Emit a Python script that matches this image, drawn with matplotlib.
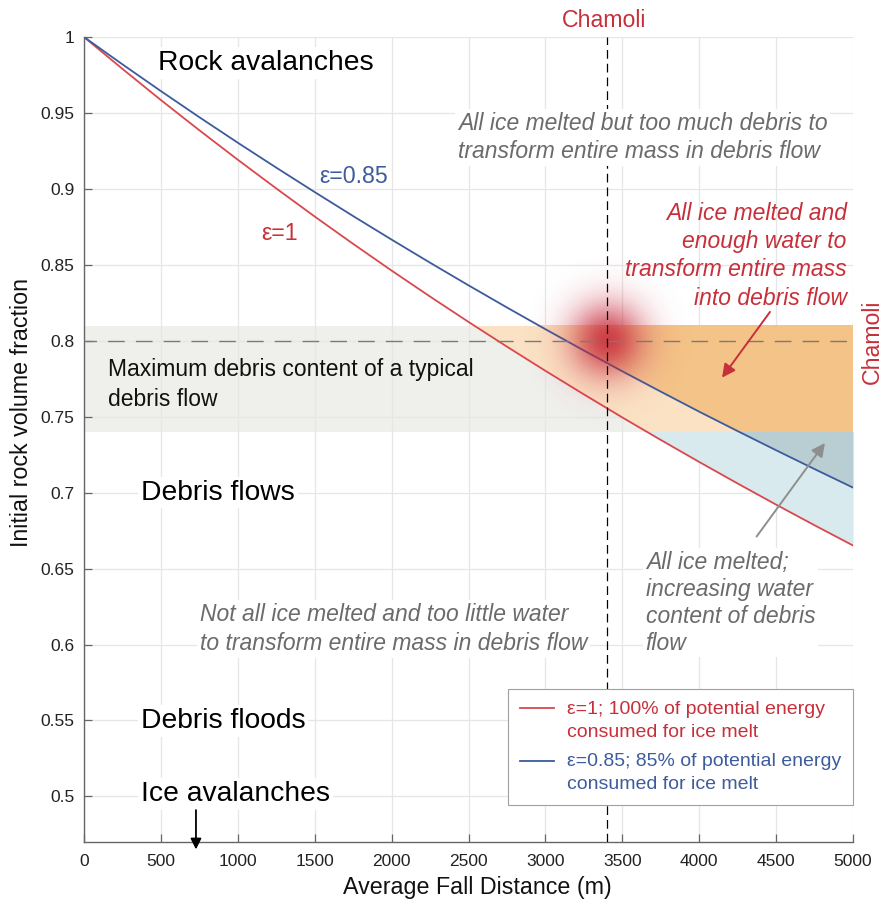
import numpy as np
import matplotlib
matplotlib.use("Agg")
import matplotlib.pyplot as plt
from matplotlib.patches import Rectangle, Polygon
from matplotlib.lines import Line2D
from matplotlib.legend_handler import HandlerLine2D

plt.rcParams['font.family'] = ['Liberation Sans', 'DejaVu Sans']

# ---- data -----------------------------------------------------------------
fall_distance = [0, 250, 500, 750, 1000, 1250, 1500, 1750, 2000, 2250, 2500,
                 2750, 3000, 3250, 3500, 3750, 4000, 4250, 4500, 4750, 5000]
rock_eps_1 = [1.0000, 0.9790, 0.9585, 0.9386, 0.9192, 0.9003, 0.8818, 0.8638,
              0.8462, 0.8291, 0.8124, 0.7961, 0.7802, 0.7647, 0.7495, 0.7347,
              0.7202, 0.7060, 0.6921, 0.6785, 0.6652]
rock_eps_085 = [1.0000, 0.9820, 0.9644, 0.9472, 0.9304, 0.9140, 0.8979, 0.8821,
                0.8666, 0.8514, 0.8365, 0.8219, 0.8076, 0.7936, 0.7799, 0.7665,
                0.7533, 0.7405, 0.7279, 0.7155, 0.7033]
debris_band = (0.74, 0.81)
max_debris = 0.80
chamoli_distance = 3400
chamoli_fraction = 0.80
x_ticks = [0, 500, 1000, 1500, 2000, 2500, 3000, 3500, 4000, 4500, 5000]
y_ticks = [0.5, 0.55, 0.6, 0.65, 0.7, 0.75, 0.8, 0.85, 0.9, 0.95, 1.0]
legend_labels = ["ε=1; 100% of potential energy\nconsumed for ice melt",
                 "ε=0.85; 85% of potential energy\nconsumed for ice melt"]

x = np.array(fall_distance, dtype=float)
r1 = np.array(rock_eps_1)
r085 = np.array(rock_eps_085)

RED = "#d9484d"
BLUE = "#3c5b9c"
RED_TXT = "#c7303a"
BLUE_TXT = "#3d5c9e"
GRAY_TXT = "#6b6b6b"
TXT_SIZE = 16.5

fig = plt.figure(figsize=(8.84, 9.07), dpi=100)
ax = fig.add_axes([0.095, 0.0717, 0.870, 0.8875])
ax.set_xlim(0, 5000)
ax.set_ylim(0.47, 1.0)

# ---- region shading -------------------------------------------------------
ax.axhspan(*debris_band, color="#efefec", zorder=0.5, lw=0)

band_clip = Rectangle((0, debris_band[0]), 5000, debris_band[1] - debris_band[0],
                      transform=ax.transData)
below_clip = Rectangle((0, 0.40), 5000, debris_band[0] - 0.40,
                       transform=ax.transData)

between = ax.fill_between(x, r1, r085, color="#fbe2c5", lw=0, zorder=0.6)
between.set_clip_path(band_clip)

between_low = ax.fill_between(x, r1, r085, color="#d9eaee", lw=0, zorder=0.6)
between_low.set_clip_path(below_clip)

above_low = ax.fill_between(x, r085, np.full_like(x, 1.0), color="#b9ced2",
                            lw=0, zorder=0.6)
above_low.set_clip_path(below_clip)

# orange region above the ε=0.85 curve, with a soft horizontal gradient
gx = np.linspace(2500, 5000, 400)
t = np.clip((gx - 3050) / 750.0, 0, 1)
c_light = np.array([0.976, 0.855, 0.715])
c_dark = np.array([0.957, 0.765, 0.530])
grad = (c_light[None, :] * (1 - t[:, None]) + c_dark[None, :] * t[:, None])
grad_img = np.repeat(grad[None, :, :], 2, axis=0)
im = ax.imshow(grad_img, extent=[2500, 5000, debris_band[0], debris_band[1]],
               aspect="auto", origin="lower", interpolation="bilinear", zorder=0.7)
above_poly = Polygon(np.vstack([np.column_stack([x, r085]), [[5000, 1.0], [0, 1.0]]]),
                     closed=True, transform=ax.transData)
im.set_clip_path(above_poly)

# ---- grid -----------------------------------------------------------------
ax.set_xticks(x_ticks)
ax.set_yticks(y_ticks)
ax.set_yticklabels([f"{v:g}" for v in y_ticks])
ax.grid(True, color="#e6e6e6", lw=0.9, zorder=0.2)
ax.set_axisbelow(True)

# ---- curves ---------------------------------------------------------------
ax.plot(x, r1, color=RED, lw=1.3, zorder=2.5)
ax.plot(x, r085, color=BLUE, lw=1.3, zorder=2.5)

# ---- Chamoli marker (glow) ------------------------------------------------
bx = np.linspace(chamoli_distance - 600, chamoli_distance + 600, 241)
by = np.linspace(chamoli_fraction - 0.061, chamoli_fraction + 0.061, 241)
BX, BY = np.meshgrid(bx, by)
px_per_m = 769 / 5000.0
px_per_unit = 805 / 0.53
rr = np.hypot((BX - chamoli_distance) * px_per_m, (BY - chamoli_fraction) * px_per_unit)
glow = np.zeros(BX.shape + (4,))
glow[..., 0] = 0.78
glow[..., 1] = 0.15
glow[..., 2] = 0.22
glow[..., 3] = 0.85 * np.exp(-rr ** 2 / (2 * 26.0 ** 2))
ax.imshow(glow, extent=[bx[0], bx[-1], by[0], by[-1]], aspect="auto",
          origin="lower", interpolation="bilinear", zorder=3)

# reference lines
ax.hlines(max_debris, 0, 5000, colors="#7a7a7a", lw=1.0,
          linestyles=(3, (12, 8)), zorder=3.5)
ax.vlines(chamoli_distance, 0.47, 1.0, colors="black", lw=0.9,
          linestyles=(0, (7, 4)), zorder=3.5)

# ---- axes styling ---------------------------------------------------------
ax.set_ylim(0.47, 1.0)
ax.set_xlim(0, 5000)
for s in ("top", "right"):
    ax.spines[s].set_visible(False)
for s in ("left", "bottom"):
    ax.spines[s].set_color("#666666")
    ax.spines[s].set_linewidth(1.0)
ax.tick_params(direction="in", length=6, width=0.9, color="#666666",
               labelsize=12.5, labelcolor="#222222")
ax.tick_params(axis="x", pad=9)
ax.tick_params(axis="y", pad=7)

ax.set_xlabel("Average Fall Distance (m)", fontsize=16.75, color="#111111")
ax.xaxis.set_label_coords(0.512, -0.042)
ax.set_ylabel("Initial rock volume fraction", fontsize=16.75, color="#111111")
ax.yaxis.set_label_coords(-0.066, 0.534)

# ---- annotations ----------------------------------------------------------
wbox = dict(facecolor="white", edgecolor="none", pad=2)

ax.text(481, 0.9783, "Rock avalanches", fontsize=20.3, color="black",
        va="baseline", bbox=wbox, zorder=4)
ax.text(371, 0.6954, "Debris flows", fontsize=20.3, color="black",
        va="baseline", bbox=wbox, zorder=4)
ax.text(371, 0.5452, "Debris floods", fontsize=20.3, color="black",
        va="baseline", bbox=wbox, zorder=4)
ax.text(371, 0.4969, "Ice avalanches", fontsize=20.3, color="black",
        va="baseline", bbox=wbox, zorder=4)
ax.annotate("", xy=(728, 0.4651), xytext=(728, 0.4910),
            arrowprops=dict(arrowstyle="-|>", color="black", lw=1.3,
                            mutation_scale=16, shrinkA=0, shrinkB=0),
            annotation_clip=False, zorder=5)

ax.text(1528, 0.9037, "ε=0.85", fontsize=16.7, color=BLUE_TXT, va="baseline", zorder=4)
ax.text(1155, 0.8664, "ε=1", fontsize=16.7, color=RED_TXT, va="baseline", zorder=4)

# multi-line labels are anchored on the baseline of their last line
ax.text(158, 0.7572, "Maximum debris content of a typical\ndebris flow",
        fontsize=TXT_SIZE, color="#111111", va="baseline", linespacing=1.35, zorder=4)

ax.text(2432, 0.9202, "All ice melted but too much debris to\ntransform entire mass in debris flow",
        fontsize=TXT_SIZE, style="italic", color=GRAY_TXT, va="baseline",
        linespacing=1.3, bbox=wbox, zorder=4)

ax.text(4959, 0.8237, "All ice melted and\nenough water to\ntransform entire mass\ninto debris flow",
        fontsize=TXT_SIZE, style="italic", color=RED_TXT, ha="right", va="baseline",
        multialignment="right", linespacing=1.3, zorder=4)
ax.annotate("", xy=(4148, 0.7757), xytext=(4460, 0.8190),
            arrowprops=dict(arrowstyle="-|>", color=RED_TXT, lw=1.4,
                            mutation_scale=20, shrinkA=0, shrinkB=0), zorder=5)

ax.text(3652, 0.5967, "All ice melted;\nincreasing water\ncontent of debris\nflow",
        fontsize=TXT_SIZE, style="italic", color=GRAY_TXT, va="baseline",
        linespacing=1.22, bbox=wbox, zorder=4)
ax.annotate("", xy=(4817, 0.7327), xytext=(4373, 0.6711),
            arrowprops=dict(arrowstyle="-|>", color="#8e8e8e", lw=1.4,
                            mutation_scale=20, shrinkA=0, shrinkB=0), zorder=5)

ax.text(754, 0.5963, "Not all ice melted and too little water\nto transform entire mass in debris flow",
        fontsize=TXT_SIZE, style="italic", color=GRAY_TXT, va="baseline",
        linespacing=1.33, bbox=wbox, zorder=3.2)

ax.text(3381, 1.0068, "Chamoli", fontsize=16.7, color=RED_TXT, ha="center",
        va="baseline", clip_on=False)
ax.text(5124, 0.7995, "Chamoli", fontsize=16.7, color=RED_TXT, ha="center",
        va="center", rotation=90, clip_on=False)


# ---- legend ---------------------------------------------------------------
class FirstLineHandler(HandlerLine2D):
    """Legend line placed level with the first line of a two-line label."""

    def create_artists(self, legend, orig_handle, xdescent, ydescent, width,
                       height, fontsize, trans):
        arts = super().create_artists(legend, orig_handle, xdescent, ydescent,
                                      width, height, fontsize, trans)
        for a in arts:
            a.set_ydata(np.asarray(a.get_ydata(), dtype=float) + 0.62 * fontsize)
        return arts


handles = [Line2D([], [], color=RED, lw=1.3), Line2D([], [], color=BLUE, lw=1.3)]
leg = ax.legend(handles, legend_labels, loc="lower right",
                bbox_to_anchor=(1.0, 0.046), fontsize=14, frameon=True,
                fancybox=False, framealpha=1, edgecolor="#a0a0a0",
                handlelength=1.75, handletextpad=0.7, borderaxespad=0,
                labelspacing=0.65, borderpad=0.6,
                labelcolor=[RED_TXT, BLUE_TXT],
                handler_map={Line2D: FirstLineHandler()})
for txt in leg.get_texts():
    txt.set_linespacing(1.45)
leg.get_frame().set_linewidth(0.8)
leg.set_zorder(6)

fig.savefig("out.png", dpi=100)
